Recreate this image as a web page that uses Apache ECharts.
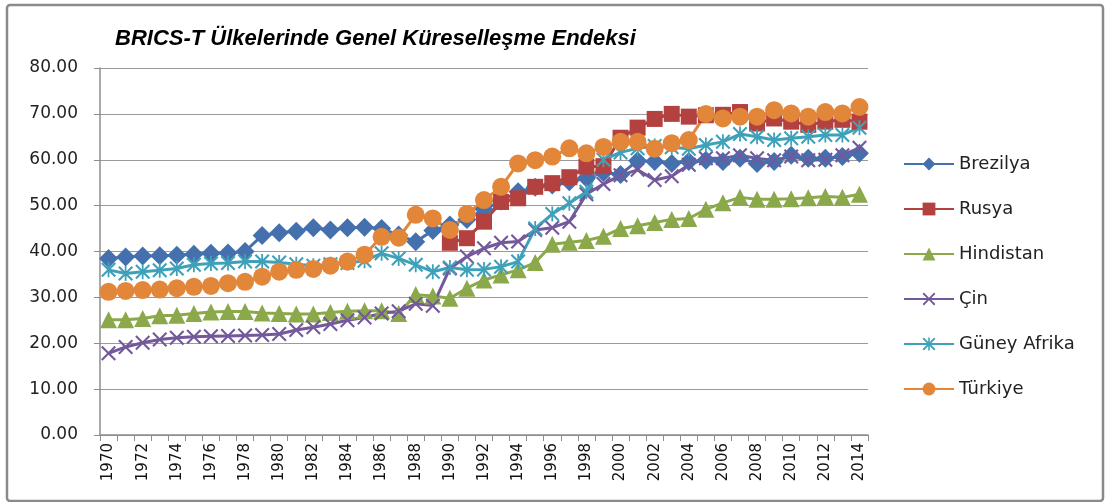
<!DOCTYPE html>
<html>
<head>
<meta charset="utf-8">
<script src="https://cdn.jsdelivr.net/npm/echarts@6/dist/echarts.min.js"></script>
<style>
  html, body { margin: 0; padding: 0; background: #fff; }
  #chart { width: 1105px; height: 502px; }
</style>
</head>
<body>
<div id="chart"></div>
<script>
// yıllar
const years = [];
for (let y = 1970; y <= 2014; y++) years.push(String(y));

const brezilya = [38.5, 38.8, 39.0, 39.1, 39.2, 39.4, 39.6, 39.7, 40.0, 43.5,
  44.1, 44.4, 45.2, 44.7, 45.2, 45.3, 45.0, 43.6, 42.1, 44.6,
  45.8, 47.0, 49.2, 51.0, 53.0, 54.0, 54.5, 55.2, 56.0, 57.2,
  56.8, 59.8, 59.6, 59.2, 59.6, 59.9, 59.6, 60.3, 59.2, 59.6,
  61.0, 60.3, 60.3, 60.7, 61.4];

const rusya = [null, null, null, null, null, null, null, null, null, null,
  null, null, null, null, null, null, null, null, null, null,
  41.9, 42.9, 46.5, 50.8, 51.6, 54.1, 54.9, 56.2, 58.5, 58.6,
  64.8, 67.0, 68.9, 70.0, 69.4, 69.7, 69.8, 70.4, 67.9, 69.0,
  68.3, 67.6, 68.3, 68.7, 68.3];

const hindistan = [25.1, 25.1, 25.4, 26.0, 26.1, 26.5, 26.8, 26.9, 26.9, 26.6,
  26.5, 26.4, 26.4, 26.7, 27.0, 27.1, 27.1, 26.5, 30.6, 30.3,
  29.8, 32.0, 33.8, 34.9, 36.0, 37.6, 41.6, 42.0, 42.4, 43.3,
  45.0, 45.6, 46.3, 47.0, 47.2, 49.2, 50.6, 51.8, 51.4, 51.4,
  51.5, 51.7, 52.0, 51.8, 52.5];

const cin = [17.8, 19.2, 20.1, 20.8, 21.2, 21.4, 21.5, 21.6, 21.7, 21.8,
  22.0, 22.9, 23.5, 24.2, 25.0, 25.6, 26.5, 27.0, 28.6, 28.2,
  36.3, 38.9, 40.7, 41.9, 42.2, 44.7, 45.2, 46.5, 52.5, 54.7,
  56.6, 57.8, 55.6, 56.4, 58.9, 60.3, 60.3, 61.0, 60.3, 59.9,
  60.7, 59.9, 60.0, 61.0, 62.6];

const guneyAfrika = [36.0, 35.2, 35.6, 35.9, 36.3, 37.1, 37.4, 37.5, 37.8, 37.8,
  37.6, 37.2, 36.9, 37.2, 37.5, 38.0, 39.6, 38.5, 37.1, 35.6,
  36.5, 36.0, 36.1, 36.7, 37.8, 45.0, 48.2, 50.5, 53.0, 60.0,
  61.6, 62.5, 63.0, 62.7, 62.4, 63.2, 63.9, 65.6, 65.0, 64.3,
  64.7, 65.0, 65.4, 65.4, 67.0];

const turkiye = [31.2, 31.4, 31.6, 31.7, 32.0, 32.3, 32.5, 33.1, 33.4, 34.5,
  35.6, 36.0, 36.2, 36.9, 37.8, 39.3, 43.2, 43.0, 48.0, 47.2,
  44.7, 48.2, 51.2, 54.1, 59.2, 59.9, 60.7, 62.5, 61.4, 62.8,
  63.9, 63.9, 62.4, 63.6, 64.3, 70.0, 69.0, 69.4, 69.4, 70.8,
  70.1, 69.4, 70.4, 70.1, 71.5];

// işaretler
const xMark = 'path://M0,1 L1,0 L5,4 L9,0 L10,1 L6,5 L10,9 L9,10 L5,6 L1,10 L0,9 L4,5 Z';
const starMark = 'path://M0,1 L1,0 L5,4 L9,0 L10,1 L6,5 L10,9 L9,10 L5,6 L1,10 L0,9 L4,5 Z M4.4,0 L5.6,0 L5.6,10 L4.4,10 Z';

const chart = echarts.init(document.getElementById('chart'));

function seri(name, data, color, symbol, size) {
  return {
    name: name,
    type: 'line',
    data: data,
    symbol: symbol,
    symbolSize: size,
    showAllSymbol: true,
    connectNulls: false,
    lineStyle: { color: color, width: 3 },
    itemStyle: { color: color },
    emphasis: { disabled: true }
  };
}

const option = {
  animation: false,
  textStyle: { fontFamily: 'DejaVu Sans' },
  graphic: [{
    type: 'rect',
    shape: { x: 7, y: 5, width: 1096, height: 496, r: 3 },
    style: { fill: 'none', stroke: '#8a8a8a', lineWidth: 2.5 },
    silent: true
  }],
  title: {
    text: 'BRICS-T Ülkelerinde Genel Küreselleşme Endeksi',
    left: 110,
    top: 23,
    textStyle: { fontFamily: 'Liberation Sans', fontStyle: 'italic', fontWeight: 'bold', fontSize: 22, color: '#000' }
  },
  legend: {
    orient: 'vertical',
    left: 898,
    top: 150,
    itemWidth: 50,
    itemHeight: 16,
    itemGap: 27,
    textStyle: { fontSize: 18, color: '#222', fontFamily: 'DejaVu Sans' },
    data: ['Brezilya', 'Rusya', 'Hindistan', 'Çin', 'Güney Afrika', 'Türkiye']
  },
  grid: { left: 100, right: 237, top: 68, bottom: 67, containLabel: false },
  xAxis: {
    type: 'category',
    data: years,
    boundaryGap: true,
    axisLine: { lineStyle: { color: '#8c8c8c', width: 1.5 } },
    axisTick: { show: true, interval: 0, length: 6, lineStyle: { color: '#8c8c8c' } },
    axisLabel: { interval: 1, rotate: 90, fontSize: 15, color: '#111', margin: 8 }
  },
  yAxis: {
    type: 'value',
    min: 0,
    max: 80,
    interval: 10,
    axisLine: { show: true, lineStyle: { color: '#8c8c8c', width: 1.5 } },
    axisTick: { show: true, length: 6, lineStyle: { color: '#8c8c8c' } },
    splitLine: { lineStyle: { color: '#9a9a9a', width: 1 } },
    axisLabel: { formatter: v => v.toFixed(2), fontSize: 17, color: '#222', margin: 22 }
  },
  series: [
    seri('Brezilya', brezilya, '#4471ae', 'diamond', 19),
    seri('Rusya', rusya, '#b3413f', 'rect', 16),
    seri('Hindistan', hindistan, '#8ba94b', 'triangle', 17),
    seri('Çin', cin, '#74589c', xMark, 15),
    seri('Güney Afrika', guneyAfrika, '#3fa1b9', starMark, 15),
    seri('Türkiye', turkiye, '#e2863a', 'circle', 18)
  ]
};

chart.setOption(option);
</script>
</body>
</html>
